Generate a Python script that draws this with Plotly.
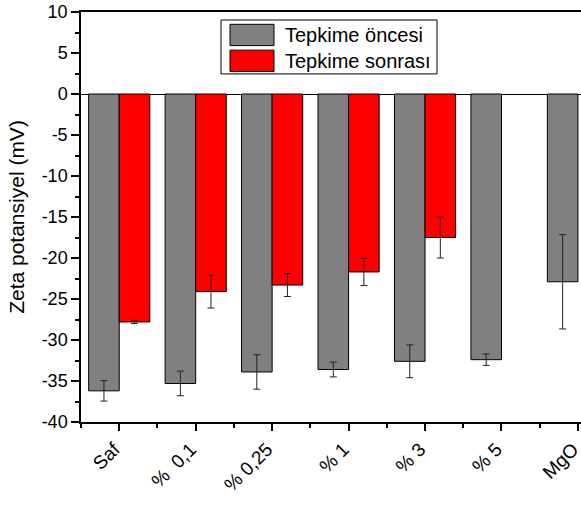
import plotly.graph_objects as go

categories = ["Saf", "% \u00a00,1", "% 0,25", "% 1", "% 3", "% 5", "MgO"]
series_names = ["Tepkime öncesi", "Tepkime sonrası"]
before_vals = [-36.2, -35.3, -33.9, -33.6, -32.6, -32.4, -22.9]
before_err = [1.25, 1.5, 2.1, 0.9, 2.0, 0.7, 5.75]
after_vals = [-27.8, -24.1, -23.3, -21.7, -17.5, None, None]
after_err = [0.2, 2.0, 1.4, 1.65, 2.5, None, None]
yticks = [-40, -35, -30, -25, -20, -15, -10, -5, 0, 5, 10]
ytick_text = [str(v) for v in yticks]

colors = ["#808080", "#FF0000"]
FONT = "Liberation Sans, Arial, sans-serif"

xpos = list(range(len(categories)))

fig = go.Figure()
for name, vals, errs, col in [
    (series_names[0], before_vals, before_err, colors[0]),
    (series_names[1], after_vals, after_err, colors[1]),
]:
    fig.add_trace(go.Bar(
        x=xpos, y=vals, name=name,
        marker=dict(color=col, line=dict(color="black", width=1)),
        error_y=dict(type="data", array=errs, visible=True,
                     color="#222222", thickness=1, width=3.5),
        showlegend=False,
    ))

fig.update_layout(
    width=581, height=514,
    margin=dict(l=81, r=0, t=12, b=92, autoexpand=False),
    paper_bgcolor="white", plot_bgcolor="white",
    barmode="group", bargap=0.2, bargroupgap=0,
    font=dict(family=FONT, size=18, color="black"),
    showlegend=False,
)
fig.update_xaxes(
    range=[-0.5, 6.04], automargin=False,
    tickmode="array", tickvals=xpos, ticktext=categories,
    tickangle=-45, tickfont=dict(size=19), ticklabeloverflow="allow",
    ticklabelshift=-5,
    ticks="outside", ticklen=7, tickwidth=1.5, tickcolor="black",
    showline=True, linecolor="black", linewidth=1.5, mirror=True,
    showgrid=False, zeroline=False,
    minor=dict(tickvals=[i + 0.5 for i in range(-1, len(categories))],
               ticks="outside", ticklen=4, tickwidth=1.5, tickcolor="black"),
)
fig.update_yaxes(
    range=[-40, 10], automargin=False,
    tickmode="array", tickvals=yticks, ticktext=ytick_text,
    tickfont=dict(size=18),
    ticks="outside", ticklen=8, tickwidth=1.5, tickcolor="black",
    showline=True, linecolor="black", linewidth=1.5,
    showgrid=False, zeroline=True, zerolinecolor="black", zerolinewidth=1.2,
    minor=dict(dtick=2.5, ticks="outside", ticklen=4, tickwidth=1.5, tickcolor="black"),
    title=dict(text="Zeta potansiyel (mV)", font=dict(size=21), standoff=11),
)

# custom legend (positions in paper coordinates)
fig.add_shape(type="rect", xref="paper", yref="paper",
              x0=0.28, x1=0.712, y0=0.849, y1=0.9805,
              line=dict(color="black", width=1), fillcolor="white")
sw_y = [(0.918, 0.970), (0.855, 0.907)]
txt_y = [0.9439, 0.8817]
for i in range(2):
    fig.add_shape(type="rect", xref="paper", yref="paper",
                  x0=0.298, x1=0.386, y0=sw_y[i][0], y1=sw_y[i][1],
                  line=dict(color="black", width=1), fillcolor=colors[i])
    fig.add_annotation(xref="paper", yref="paper", x=0.404, y=txt_y[i],
                       text=series_names[i], showarrow=False,
                       xanchor="left", yanchor="middle",
                       font=dict(size=20, family=FONT, color="black"))

fig.write_html("out.html", config={"displayModeBar": False},
               post_script="document.body.style.margin='0px';document.body.style.padding='0px';")
